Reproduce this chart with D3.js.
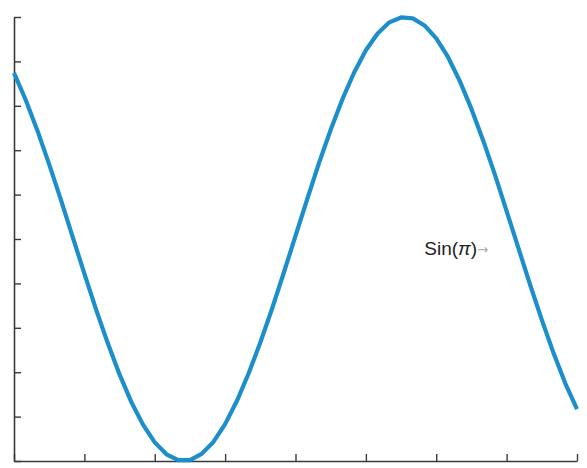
<!DOCTYPE html>
<html>
<head>
<meta charset="utf-8">
<script src="https://cdn.jsdelivr.net/npm/d3@7"></script>
<style>
  body { margin: 0; background: #fff; }
  svg { display: block; font-family: "Liberation Sans", Arial, sans-serif; }
</style>
</head>
<body>
<div id="chart"></div>
<script>
const WIDTH = 587
const HEIGHT = 468
const margin = {top: 17, right: 10, bottom: 7, left: 14}

// x in data units (tick every 1), sampled every 1/6
const xTicks = [0, 1, 2, 3, 4, 5, 6, 7, 8]
const yTicks = [0, 1, 2, 3, 4, 5, 6, 7, 8, 9, 10]
const xValues = d3.range(0, 49).map(k => k / 6)
const yValues = [
    8.74, 8.13, 7.44, 6.68, 5.88, 5.05, 4.22, 3.41, 2.65, 1.95,
    1.33, 0.82, 0.42, 0.15, 0.02, 0.02, 0.16, 0.43, 0.83, 1.35,
    1.97, 2.67, 3.43, 4.24, 5.07, 5.90, 6.71, 7.46, 8.15, 8.75,
    9.25, 9.63, 9.88, 9.99, 9.97, 9.81, 9.52, 9.10, 8.56, 7.93,
    7.22, 6.45, 5.63, 4.80, 3.97, 3.18, 2.43, 1.75, 1.17
]
const label = {x: 5.83, y: 4.63}

const svg = d3.select('#chart')
    .append('svg')
    .attr('width', WIDTH)
    .attr('height', HEIGHT)

const x = d3.scaleLinear().domain([0, 8]).range([margin.left, WIDTH - margin.right])
const y = d3.scaleLinear().domain([0, 10]).range([HEIGHT - margin.bottom, margin.top])

// axes, ticks pointing inward, no labels
const xAxis = svg.append('g')
    .attr('transform', `translate(0,${y(0)})`)
    .call(d3.axisTop(x).tickValues(xTicks).tickSize(7).tickFormat('').tickSizeOuter(0))
const yAxis = svg.append('g')
    .attr('transform', `translate(${x(0)},0)`)
    .call(d3.axisRight(y).tickValues(yTicks).tickSize(7).tickFormat('').tickSizeOuter(0))
svg.selectAll('.domain').attr('stroke', '#3a3a3a').attr('stroke-width', 1.6)
svg.selectAll('.tick line').attr('stroke', '#3a3a3a').attr('stroke-width', 1.4)

const line = d3.line()
    .x((d, i) => x(xValues[i]))
    .y(d => y(d))

svg.append('path')
    .datum(yValues)
    .attr('d', line)
    .attr('fill', 'none')
    .attr('stroke', '#1c8fcb')
    .attr('stroke-width', 4.2)
    .attr('stroke-linejoin', 'round')

const t = svg.append('text')
    .attr('x', x(label.x))
    .attr('y', y(label.y))
    .attr('font-size', 19)
    .attr('fill', '#222')
t.append('tspan').text('Sin(')
t.append('tspan').attr('font-style', 'italic').text('π')
t.append('tspan').text(')')
t.append('tspan').attr('font-size', 13).attr('fill', '#aaa').attr('dy', -1).attr('font-family', 'DejaVu Sans').text('→')
</script>
</body>
</html>
